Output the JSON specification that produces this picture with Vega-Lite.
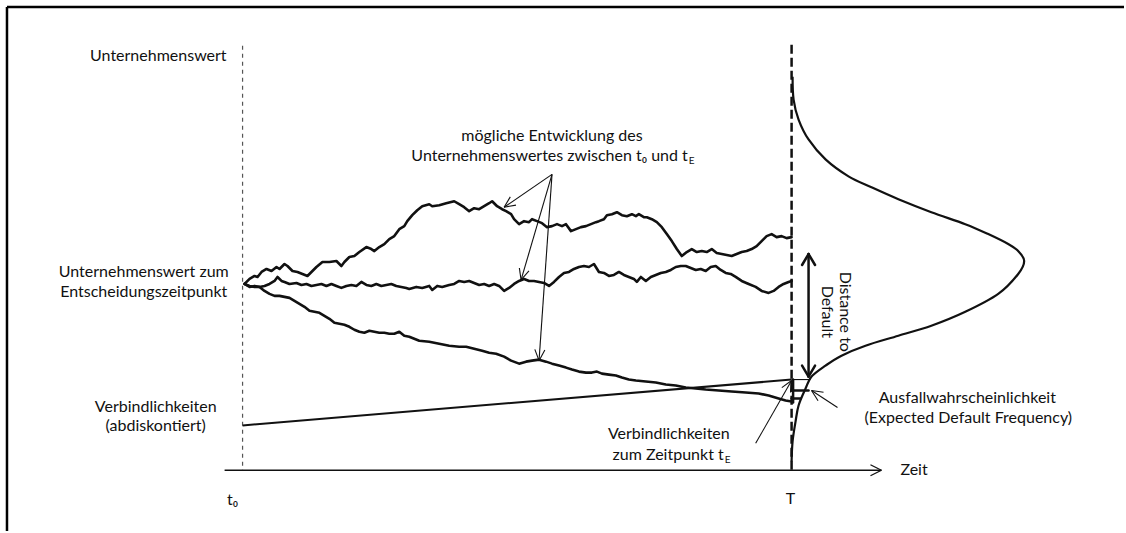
{
  "$schema": "https://vega.github.io/schema/vega-lite/v6.json",
  "width": 1126,
  "height": 533,
  "autosize": {"type": "fit", "contains": "padding"},
  "padding": 0,
  "background": "white",
  "config": {"view": {"stroke": null}, "font": "Lato"},
  "datasets": {
    "segs": [
      {"x": 7, "y": 7, "x2": 1126, "y2": 7, "k": "frame"},
      {"x": 7, "y": 7, "x2": 7, "y2": 533, "k": "frame"},
      {"x": 243, "y": 46, "x2": 243, "y2": 472, "k": "d0"},
      {"x": 793, "y": 45, "x2": 793, "y2": 472, "k": "dT"},
      {"x": 553, "y": 175, "x2": 505, "y2": 208, "k": "thin"},
      {"x": 505, "y": 208, "x2": 516.9, "y2": 205.9, "k": "thin"},
      {"x": 505, "y": 208, "x2": 511.2, "y2": 197.6, "k": "thin"},
      {"x": 553, "y": 175, "x2": 522, "y2": 281, "k": "thin"},
      {"x": 522, "y": 281, "x2": 529.9, "y2": 271.8, "k": "thin"},
      {"x": 522, "y": 281, "x2": 520.3, "y2": 269.0, "k": "thin"},
      {"x": 553, "y": 175, "x2": 540, "y2": 362, "k": "thin"},
      {"x": 540, "y": 362, "x2": 545.8, "y2": 351.4, "k": "thin"},
      {"x": 540, "y": 362, "x2": 535.8, "y2": 350.7, "k": "thin"},
      {"x": 757, "y": 445, "x2": 793, "y2": 382, "k": "thin"},
      {"x": 793, "y": 382, "x2": 783.2, "y2": 389.1, "k": "thin"},
      {"x": 793, "y": 382, "x2": 791.9, "y2": 394.0, "k": "thin"},
      {"x": 839, "y": 409, "x2": 813, "y2": 392, "k": "thin"},
      {"x": 813, "y": 392, "x2": 819.5, "y2": 402.2, "k": "thin"},
      {"x": 813, "y": 392, "x2": 825.0, "y2": 393.8, "k": "thin"},
      {"x": 793, "y": 381, "x2": 812, "y2": 381, "k": "thin"},
      {"x": 225, "y": 472, "x2": 883, "y2": 472, "k": "axis"},
      {"x": 883, "y": 472, "x2": 872, "y2": 466.5, "k": "axis"},
      {"x": 883, "y": 472, "x2": 872, "y2": 477.5, "k": "axis"},
      {"x": 243, "y": 427, "x2": 793, "y2": 381, "k": "liab"},
      {"x": 810, "y": 255, "x2": 810, "y2": 378, "k": "thick"},
      {"x": 810, "y": 255, "x2": 803.5, "y2": 266, "k": "thick"},
      {"x": 810, "y": 255, "x2": 816.5, "y2": 266, "k": "thick"},
      {"x": 810, "y": 378, "x2": 803.5, "y2": 367, "k": "thick"},
      {"x": 810, "y": 378, "x2": 816.5, "y2": 367, "k": "thick"},
      {"x": 793, "y": 392, "x2": 810, "y2": 392, "k": "thick"},
      {"x": 793, "y": 400, "x2": 802, "y2": 400, "k": "thick"},
      {"x": 794.5, "y": 381, "x2": 794.5, "y2": 404, "k": "thick"}
    ],
    "paths": [
      {"p": "A", "x": 245, "y": 285}, {"p": "A", "x": 250, "y": 280}, {"p": "A", "x": 255, "y": 277}, {"p": "A", "x": 258, "y": 278}, {"p": "A", "x": 262, "y": 273}, {"p": "A", "x": 267, "y": 270}, {"p": "A", "x": 272, "y": 272}, {"p": "A", "x": 277, "y": 268}, {"p": "A", "x": 280, "y": 270}, {"p": "A", "x": 285, "y": 265}, {"p": "A", "x": 288, "y": 267}, {"p": "A", "x": 293, "y": 272}, {"p": "A", "x": 298, "y": 273}, {"p": "A", "x": 303, "y": 275}, {"p": "A", "x": 308, "y": 277}, {"p": "A", "x": 312, "y": 273}, {"p": "A", "x": 317, "y": 268}, {"p": "A", "x": 323, "y": 263}, {"p": "A", "x": 330, "y": 263}, {"p": "A", "x": 337, "y": 262}, {"p": "A", "x": 342, "y": 267}, {"p": "A", "x": 345, "y": 263}, {"p": "A", "x": 350, "y": 258}, {"p": "A", "x": 355, "y": 257}, {"p": "A", "x": 360, "y": 253}, {"p": "A", "x": 367, "y": 248}, {"p": "A", "x": 372, "y": 250}, {"p": "A", "x": 375, "y": 252}, {"p": "A", "x": 380, "y": 248}, {"p": "A", "x": 385, "y": 245}, {"p": "A", "x": 390, "y": 240}, {"p": "A", "x": 395, "y": 237}, {"p": "A", "x": 400, "y": 230}, {"p": "A", "x": 405, "y": 227}, {"p": "A", "x": 408, "y": 222}, {"p": "A", "x": 413, "y": 216}, {"p": "A", "x": 418, "y": 211}, {"p": "A", "x": 423, "y": 207}, {"p": "A", "x": 430, "y": 205}, {"p": "A", "x": 433, "y": 207}, {"p": "A", "x": 440, "y": 206}, {"p": "A", "x": 447, "y": 204}, {"p": "A", "x": 455, "y": 202}, {"p": "A", "x": 460, "y": 205}, {"p": "A", "x": 465, "y": 208}, {"p": "A", "x": 470, "y": 212}, {"p": "A", "x": 475, "y": 209}, {"p": "A", "x": 480, "y": 210}, {"p": "A", "x": 485, "y": 207}, {"p": "A", "x": 490, "y": 204}, {"p": "A", "x": 493, "y": 202}, {"p": "A", "x": 498, "y": 207}, {"p": "A", "x": 503, "y": 210}, {"p": "A", "x": 507, "y": 212}, {"p": "A", "x": 512, "y": 215}, {"p": "A", "x": 515, "y": 220}, {"p": "A", "x": 520, "y": 225}, {"p": "A", "x": 525, "y": 222}, {"p": "A", "x": 530, "y": 223}, {"p": "A", "x": 533, "y": 220}, {"p": "A", "x": 538, "y": 222}, {"p": "A", "x": 543, "y": 224}, {"p": "A", "x": 548, "y": 228}, {"p": "A", "x": 553, "y": 227}, {"p": "A", "x": 558, "y": 225}, {"p": "A", "x": 563, "y": 227}, {"p": "A", "x": 567, "y": 225}, {"p": "A", "x": 572, "y": 232}, {"p": "A", "x": 577, "y": 230}, {"p": "A", "x": 582, "y": 228}, {"p": "A", "x": 587, "y": 227}, {"p": "A", "x": 592, "y": 225}, {"p": "A", "x": 597, "y": 223}, {"p": "A", "x": 600, "y": 222}, {"p": "A", "x": 605, "y": 220}, {"p": "A", "x": 608, "y": 216}, {"p": "A", "x": 613, "y": 215}, {"p": "A", "x": 618, "y": 213}, {"p": "A", "x": 623, "y": 216}, {"p": "A", "x": 628, "y": 217}, {"p": "A", "x": 633, "y": 215}, {"p": "A", "x": 637, "y": 217}, {"p": "A", "x": 640, "y": 215}, {"p": "A", "x": 645, "y": 218}, {"p": "A", "x": 648, "y": 218}, {"p": "A", "x": 653, "y": 220}, {"p": "A", "x": 658, "y": 223}, {"p": "A", "x": 663, "y": 228}, {"p": "A", "x": 668, "y": 235}, {"p": "A", "x": 673, "y": 242}, {"p": "A", "x": 678, "y": 250}, {"p": "A", "x": 683, "y": 257}, {"p": "A", "x": 688, "y": 253}, {"p": "A", "x": 693, "y": 250}, {"p": "A", "x": 698, "y": 253}, {"p": "A", "x": 703, "y": 252}, {"p": "A", "x": 708, "y": 253}, {"p": "A", "x": 713, "y": 250}, {"p": "A", "x": 718, "y": 254}, {"p": "A", "x": 723, "y": 255}, {"p": "A", "x": 728, "y": 256}, {"p": "A", "x": 733, "y": 257}, {"p": "A", "x": 738, "y": 255}, {"p": "A", "x": 743, "y": 253}, {"p": "A", "x": 748, "y": 252}, {"p": "A", "x": 753, "y": 250}, {"p": "A", "x": 758, "y": 247}, {"p": "A", "x": 763, "y": 242}, {"p": "A", "x": 768, "y": 237}, {"p": "A", "x": 773, "y": 235}, {"p": "A", "x": 778, "y": 238}, {"p": "A", "x": 783, "y": 237}, {"p": "A", "x": 788, "y": 239}, {"p": "A", "x": 793, "y": 238},
      {"p": "B", "x": 245, "y": 285}, {"p": "B", "x": 250, "y": 288}, {"p": "B", "x": 255, "y": 287}, {"p": "B", "x": 260, "y": 288}, {"p": "B", "x": 265, "y": 287}, {"p": "B", "x": 270, "y": 285}, {"p": "B", "x": 275, "y": 282}, {"p": "B", "x": 278, "y": 278}, {"p": "B", "x": 282, "y": 282}, {"p": "B", "x": 285, "y": 283}, {"p": "B", "x": 290, "y": 285}, {"p": "B", "x": 297, "y": 284}, {"p": "B", "x": 302, "y": 286}, {"p": "B", "x": 307, "y": 285}, {"p": "B", "x": 312, "y": 287}, {"p": "B", "x": 317, "y": 286}, {"p": "B", "x": 322, "y": 285}, {"p": "B", "x": 327, "y": 287}, {"p": "B", "x": 332, "y": 285}, {"p": "B", "x": 337, "y": 287}, {"p": "B", "x": 342, "y": 289}, {"p": "B", "x": 347, "y": 287}, {"p": "B", "x": 352, "y": 286}, {"p": "B", "x": 357, "y": 287}, {"p": "B", "x": 362, "y": 283}, {"p": "B", "x": 367, "y": 286}, {"p": "B", "x": 372, "y": 287}, {"p": "B", "x": 377, "y": 285}, {"p": "B", "x": 382, "y": 287}, {"p": "B", "x": 387, "y": 286}, {"p": "B", "x": 392, "y": 285}, {"p": "B", "x": 397, "y": 287}, {"p": "B", "x": 402, "y": 288}, {"p": "B", "x": 407, "y": 289}, {"p": "B", "x": 410, "y": 290}, {"p": "B", "x": 417, "y": 288}, {"p": "B", "x": 423, "y": 289}, {"p": "B", "x": 430, "y": 287}, {"p": "B", "x": 433, "y": 291}, {"p": "B", "x": 438, "y": 287}, {"p": "B", "x": 443, "y": 288}, {"p": "B", "x": 450, "y": 286}, {"p": "B", "x": 455, "y": 285}, {"p": "B", "x": 460, "y": 282}, {"p": "B", "x": 465, "y": 283}, {"p": "B", "x": 470, "y": 282}, {"p": "B", "x": 475, "y": 284}, {"p": "B", "x": 480, "y": 286}, {"p": "B", "x": 485, "y": 285}, {"p": "B", "x": 490, "y": 287}, {"p": "B", "x": 495, "y": 285}, {"p": "B", "x": 500, "y": 287}, {"p": "B", "x": 505, "y": 292}, {"p": "B", "x": 510, "y": 289}, {"p": "B", "x": 515, "y": 285}, {"p": "B", "x": 520, "y": 282}, {"p": "B", "x": 525, "y": 280}, {"p": "B", "x": 530, "y": 282}, {"p": "B", "x": 535, "y": 282}, {"p": "B", "x": 540, "y": 283}, {"p": "B", "x": 545, "y": 284}, {"p": "B", "x": 550, "y": 287}, {"p": "B", "x": 555, "y": 283}, {"p": "B", "x": 560, "y": 278}, {"p": "B", "x": 565, "y": 274}, {"p": "B", "x": 570, "y": 273}, {"p": "B", "x": 575, "y": 270}, {"p": "B", "x": 580, "y": 268}, {"p": "B", "x": 585, "y": 267}, {"p": "B", "x": 590, "y": 268}, {"p": "B", "x": 595, "y": 265}, {"p": "B", "x": 600, "y": 273}, {"p": "B", "x": 605, "y": 274}, {"p": "B", "x": 610, "y": 277}, {"p": "B", "x": 615, "y": 276}, {"p": "B", "x": 620, "y": 273}, {"p": "B", "x": 625, "y": 276}, {"p": "B", "x": 630, "y": 278}, {"p": "B", "x": 635, "y": 280}, {"p": "B", "x": 638, "y": 283}, {"p": "B", "x": 642, "y": 278}, {"p": "B", "x": 647, "y": 282}, {"p": "B", "x": 652, "y": 278}, {"p": "B", "x": 657, "y": 276}, {"p": "B", "x": 662, "y": 274}, {"p": "B", "x": 667, "y": 273}, {"p": "B", "x": 672, "y": 271}, {"p": "B", "x": 677, "y": 268}, {"p": "B", "x": 682, "y": 267}, {"p": "B", "x": 687, "y": 267}, {"p": "B", "x": 692, "y": 269}, {"p": "B", "x": 697, "y": 271}, {"p": "B", "x": 702, "y": 270}, {"p": "B", "x": 707, "y": 272}, {"p": "B", "x": 712, "y": 268}, {"p": "B", "x": 717, "y": 267}, {"p": "B", "x": 722, "y": 271}, {"p": "B", "x": 727, "y": 274}, {"p": "B", "x": 732, "y": 275}, {"p": "B", "x": 737, "y": 278}, {"p": "B", "x": 743, "y": 282}, {"p": "B", "x": 750, "y": 285}, {"p": "B", "x": 757, "y": 288}, {"p": "B", "x": 763, "y": 292}, {"p": "B", "x": 770, "y": 294}, {"p": "B", "x": 775, "y": 292}, {"p": "B", "x": 780, "y": 288}, {"p": "B", "x": 785, "y": 285}, {"p": "B", "x": 790, "y": 283}, {"p": "B", "x": 793, "y": 282},
      {"p": "C", "x": 245, "y": 285}, {"p": "C", "x": 250, "y": 287}, {"p": "C", "x": 255, "y": 288}, {"p": "C", "x": 260, "y": 288}, {"p": "C", "x": 265, "y": 292}, {"p": "C", "x": 270, "y": 295}, {"p": "C", "x": 275, "y": 297}, {"p": "C", "x": 280, "y": 297}, {"p": "C", "x": 285, "y": 298}, {"p": "C", "x": 290, "y": 299}, {"p": "C", "x": 295, "y": 302}, {"p": "C", "x": 300, "y": 305}, {"p": "C", "x": 305, "y": 308}, {"p": "C", "x": 310, "y": 312}, {"p": "C", "x": 315, "y": 313}, {"p": "C", "x": 320, "y": 314}, {"p": "C", "x": 325, "y": 317}, {"p": "C", "x": 330, "y": 320}, {"p": "C", "x": 335, "y": 324}, {"p": "C", "x": 340, "y": 325}, {"p": "C", "x": 345, "y": 326}, {"p": "C", "x": 350, "y": 328}, {"p": "C", "x": 355, "y": 331}, {"p": "C", "x": 360, "y": 333}, {"p": "C", "x": 365, "y": 334}, {"p": "C", "x": 370, "y": 332}, {"p": "C", "x": 375, "y": 333}, {"p": "C", "x": 380, "y": 334}, {"p": "C", "x": 385, "y": 334}, {"p": "C", "x": 390, "y": 335}, {"p": "C", "x": 395, "y": 335}, {"p": "C", "x": 400, "y": 333}, {"p": "C", "x": 405, "y": 337}, {"p": "C", "x": 410, "y": 338}, {"p": "C", "x": 420, "y": 342}, {"p": "C", "x": 430, "y": 343}, {"p": "C", "x": 440, "y": 345}, {"p": "C", "x": 450, "y": 347}, {"p": "C", "x": 460, "y": 348}, {"p": "C", "x": 467, "y": 348}, {"p": "C", "x": 475, "y": 350}, {"p": "C", "x": 483, "y": 352}, {"p": "C", "x": 490, "y": 354}, {"p": "C", "x": 497, "y": 355}, {"p": "C", "x": 505, "y": 358}, {"p": "C", "x": 512, "y": 362}, {"p": "C", "x": 520, "y": 365}, {"p": "C", "x": 527, "y": 363}, {"p": "C", "x": 533, "y": 362}, {"p": "C", "x": 540, "y": 361}, {"p": "C", "x": 547, "y": 363}, {"p": "C", "x": 553, "y": 365}, {"p": "C", "x": 560, "y": 367}, {"p": "C", "x": 567, "y": 369}, {"p": "C", "x": 573, "y": 371}, {"p": "C", "x": 580, "y": 373}, {"p": "C", "x": 587, "y": 374}, {"p": "C", "x": 593, "y": 374}, {"p": "C", "x": 598, "y": 373}, {"p": "C", "x": 603, "y": 375}, {"p": "C", "x": 610, "y": 376}, {"p": "C", "x": 617, "y": 377}, {"p": "C", "x": 623, "y": 379}, {"p": "C", "x": 630, "y": 381}, {"p": "C", "x": 637, "y": 382}, {"p": "C", "x": 647, "y": 383}, {"p": "C", "x": 657, "y": 384}, {"p": "C", "x": 667, "y": 386}, {"p": "C", "x": 677, "y": 387}, {"p": "C", "x": 687, "y": 389}, {"p": "C", "x": 697, "y": 390}, {"p": "C", "x": 707, "y": 391}, {"p": "C", "x": 720, "y": 392}, {"p": "C", "x": 733, "y": 393}, {"p": "C", "x": 747, "y": 394}, {"p": "C", "x": 760, "y": 395}, {"p": "C", "x": 770, "y": 397}, {"p": "C", "x": 780, "y": 400}, {"p": "C", "x": 787, "y": 402}, {"p": "C", "x": 793, "y": 403}
    ],
    "curve": [
      {"x": 794, "y": 77}, {"x": 795, "y": 100}, {"x": 800, "y": 120}, {"x": 810, "y": 140}, {"x": 827, "y": 160}, {"x": 850, "y": 177}, {"x": 873, "y": 188}, {"x": 900, "y": 200}, {"x": 933, "y": 213}, {"x": 967, "y": 225}, {"x": 990, "y": 235}, {"x": 1010, "y": 245}, {"x": 1020, "y": 252}, {"x": 1026, "y": 262}, {"x": 1020, "y": 275}, {"x": 1000, "y": 295}, {"x": 967, "y": 313}, {"x": 933, "y": 327}, {"x": 900, "y": 337}, {"x": 867, "y": 347}, {"x": 843, "y": 357}, {"x": 827, "y": 367}, {"x": 813, "y": 378}, {"x": 807, "y": 390}, {"x": 800, "y": 407}, {"x": 797, "y": 423}, {"x": 794, "y": 443}, {"x": 793, "y": 463}
    ],
    "labels": [
      {"x": 227, "y": 56, "t": "Unternehmenswert", "s": "r"},
      {"x": 144, "y": 273, "t": "Unternehmenswert zum", "s": "c"},
      {"x": 144, "y": 293, "t": "Entscheidungszeitpunkt", "s": "c"},
      {"x": 156, "y": 409, "t": "Verbindlichkeiten", "s": "c"},
      {"x": 156, "y": 428, "t": "(abdiskontiert)", "s": "c"},
      {"x": 553, "y": 137, "t": "mögliche Entwicklung des", "s": "c"},
      {"x": 689, "y": 157, "t": "Unternehmenswertes zwischen t₀ und t", "s": "r"},
      {"x": 690, "y": 162, "t": "E", "s": "sub"},
      {"x": 670, "y": 436, "t": "Verbindlichkeiten", "s": "c"},
      {"x": 725, "y": 457, "t": "zum Zeitpunkt t", "s": "r"},
      {"x": 726, "y": 462, "t": "E", "s": "sub"},
      {"x": 969, "y": 400, "t": "Ausfallwahrscheinlichkeit", "s": "c"},
      {"x": 970, "y": 420, "t": "(Expected Default Frequency)", "s": "c"},
      {"x": 902, "y": 472, "t": "Zeit", "s": "l"},
      {"x": 233, "y": 502, "t": "t₀", "s": "c"},
      {"x": 792, "y": 501, "t": "T", "s": "c"},
      {"x": 847, "y": 313, "t": "Distance to", "s": "rot"},
      {"x": 828, "y": 313, "t": "Default", "s": "rot"}
    ]
  },
  "encoding": {
    "x": {"field": "x", "type": "quantitative", "scale": {"domain": [0, 1126], "nice": false, "zero": false}, "axis": null},
    "y": {"field": "y", "type": "quantitative", "scale": {"domain": [0, 533], "nice": false, "zero": false, "reverse": true}, "axis": null}
  },
  "layer": [
    {
      "data": {"name": "segs"},
      "transform": [{"filter": "datum.k === 'frame'"}],
      "mark": {"type": "rule", "color": "#000", "strokeWidth": 2.5},
      "encoding": {"x2": {"field": "x2"}, "y2": {"field": "y2"}}
    },
    {
      "data": {"name": "segs"},
      "transform": [{"filter": "datum.k === 'd0'"}],
      "mark": {"type": "rule", "color": "#555", "strokeWidth": 1.2, "strokeDash": [4, 4]},
      "encoding": {"x2": {"field": "x2"}, "y2": {"field": "y2"}}
    },
    {
      "data": {"name": "segs"},
      "transform": [{"filter": "datum.k === 'dT'"}],
      "mark": {"type": "rule", "color": "#111", "strokeWidth": 2.5, "strokeDash": [9, 4]},
      "encoding": {"x2": {"field": "x2"}, "y2": {"field": "y2"}}
    },
    {
      "data": {"name": "paths"},
      "mark": {"type": "line", "color": "#111", "strokeWidth": 2.6, "strokeJoin": "round", "strokeCap": "round"},
      "encoding": {"detail": {"field": "p"}}
    },
    {
      "data": {"name": "curve"},
      "mark": {"type": "line", "color": "#111", "strokeWidth": 2.2, "interpolate": "cardinal"},
      "encoding": {"order": {"field": "y", "type": "quantitative"}}
    },
    {
      "data": {"name": "segs"},
      "transform": [{"filter": "datum.k === 'thin'"}],
      "mark": {"type": "rule", "color": "#111", "strokeWidth": 1.1},
      "encoding": {"x2": {"field": "x2"}, "y2": {"field": "y2"}}
    },
    {
      "data": {"name": "segs"},
      "transform": [{"filter": "datum.k === 'axis'"}],
      "mark": {"type": "rule", "color": "#111", "strokeWidth": 1.3},
      "encoding": {"x2": {"field": "x2"}, "y2": {"field": "y2"}}
    },
    {
      "data": {"name": "segs"},
      "transform": [{"filter": "datum.k === 'liab'"}],
      "mark": {"type": "rule", "color": "#111", "strokeWidth": 2},
      "encoding": {"x2": {"field": "x2"}, "y2": {"field": "y2"}}
    },
    {
      "data": {"name": "segs"},
      "transform": [{"filter": "datum.k === 'thick'"}],
      "mark": {"type": "rule", "color": "#111", "strokeWidth": 2.5, "strokeCap": "round"},
      "encoding": {"x2": {"field": "x2"}, "y2": {"field": "y2"}}
    },
    {
      "data": {"name": "labels"},
      "transform": [{"filter": "datum.s === 'c'"}],
      "mark": {"type": "text", "font": "Lato", "fontSize": 16, "align": "center", "baseline": "middle", "color": "#111"},
      "encoding": {"text": {"field": "t"}}
    },
    {
      "data": {"name": "labels"},
      "transform": [{"filter": "datum.s === 'r'"}],
      "mark": {"type": "text", "font": "Lato", "fontSize": 16, "align": "right", "baseline": "middle", "color": "#111"},
      "encoding": {"text": {"field": "t"}}
    },
    {
      "data": {"name": "labels"},
      "transform": [{"filter": "datum.s === 'l'"}],
      "mark": {"type": "text", "font": "Lato", "fontSize": 16, "align": "left", "baseline": "middle", "color": "#111"},
      "encoding": {"text": {"field": "t"}}
    },
    {
      "data": {"name": "labels"},
      "transform": [{"filter": "datum.s === 'sub'"}],
      "mark": {"type": "text", "font": "Lato", "fontSize": 10, "align": "left", "baseline": "middle", "color": "#111"},
      "encoding": {"text": {"field": "t"}}
    },
    {
      "data": {"name": "labels"},
      "transform": [{"filter": "datum.s === 'rot'"}],
      "mark": {"type": "text", "font": "Lato", "fontSize": 16, "align": "center", "baseline": "middle", "angle": 90, "color": "#111"},
      "encoding": {"text": {"field": "t"}}
    }
  ]
}
